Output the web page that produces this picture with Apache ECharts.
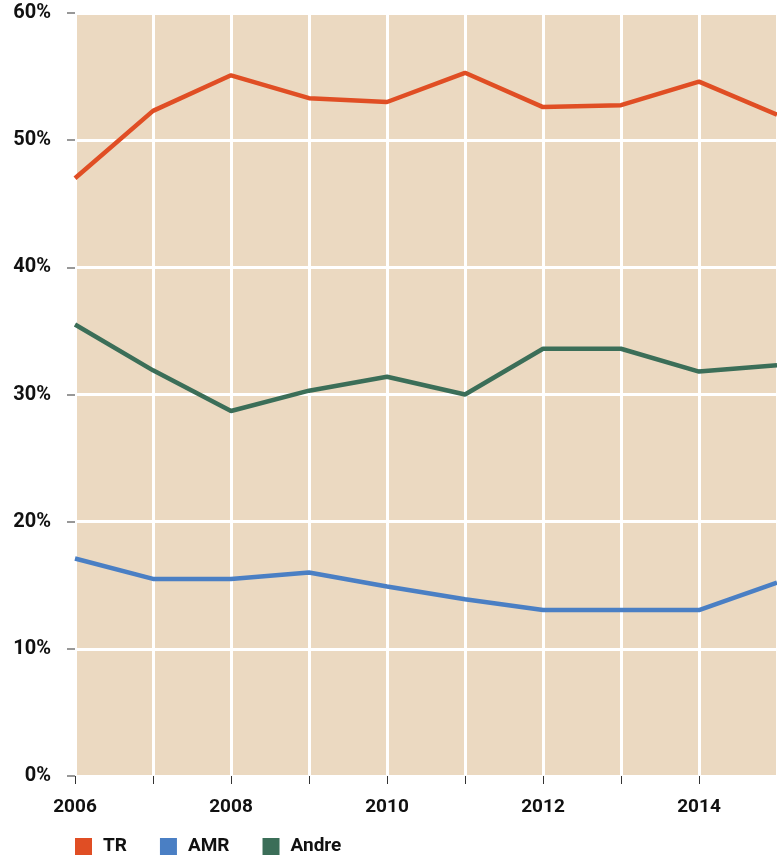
<!DOCTYPE html>
<html>
<head>
<meta charset="utf-8">
<script src="https://cdn.jsdelivr.net/npm/echarts@6/dist/echarts.min.js"></script>
<style>
  html, body { margin: 0; padding: 0; background: #fff; }
  #chart { width: 777px; height: 859px; }
</style>
</head>
<body>
<div id="chart"></div>
<script>
const years = ['2006', '2007', '2008', '2009', '2010', '2011', '2012', '2013', '2014', '2015']
const trValues = [47.0, 52.3, 55.1, 53.3, 53.0, 55.3, 52.6, 52.75, 54.6, 52.0]
const amrValues = [17.1, 15.5, 15.5, 16.0, 14.9, 13.9, 13.05, 13.05, 13.05, 15.2]
const andreValues = [35.5, 31.9, 28.7, 30.3, 31.4, 30.0, 33.6, 33.6, 31.8, 32.3]
const yTicks = [0, 10, 20, 30, 40, 50, 60]

const lineSeries = (name, data, color) => { // felles linjeoppsett
  return {
    name: name,
    type: 'line',
    data: data,
    symbol: 'none',
    clip: false,
    lineStyle: { color: color, width: 4.5 },
    itemStyle: { color: color }
  }
}

const chart = echarts.init(document.getElementById('chart'))
chart.setOption({
  animation: false,
  grid: {
    left: 75,
    right: 0,
    top: 13,
    bottom: 83,
    show: true,
    backgroundColor: '#EBD9C1',
    borderWidth: 0
  },
  legend: {
    left: 75,
    bottom: 3,
    padding: 0,
    itemWidth: 17,
    itemHeight: 17,
    itemGap: 33,
    icon: 'rect',
    textStyle: {
      fontFamily: 'Roboto, sans-serif',
      fontWeight: 'bold',
      fontSize: 19,
      color: '#111',
      padding: [0, 0, 0, 6]
    },
    data: ['TR', 'AMR', 'Andre']
  },
  xAxis: {
    type: 'category',
    boundaryGap: false,
    data: years,
    axisLine: { show: false },
    axisTick: { show: true, interval: 0, length: 8, lineStyle: { color: '#333' } },
    axisLabel: {
      interval: 1,
      margin: 22,
      fontFamily: 'Roboto, sans-serif',
      fontWeight: 'bold',
      fontSize: 19,
      color: '#111'
    },
    splitLine: { show: true, interval: 0, lineStyle: { color: '#fff', width: 3 } }
  },
  yAxis: {
    type: 'value',
    min: 0,
    max: 60,
    interval: 10,
    axisLine: { show: false },
    axisTick: { show: true, length: 8, lineStyle: { color: '#777', width: 1.5 } },
    axisLabel: {
      margin: 24,
      fontFamily: 'Roboto, sans-serif',
      fontWeight: 'bold',
      fontSize: 20,
      color: '#111',
      formatter: v => (yTicks.includes(v) ? v + '%' : '')
    },
    splitLine: { show: true, lineStyle: { color: '#fff', width: 3 } }
  },
  series: [
    lineSeries('TR', trValues, '#E04E24'),
    lineSeries('AMR', amrValues, '#4A7FC4'),
    lineSeries('Andre', andreValues, '#3B6E58')
  ]
})
</script>
</body>
</html>
